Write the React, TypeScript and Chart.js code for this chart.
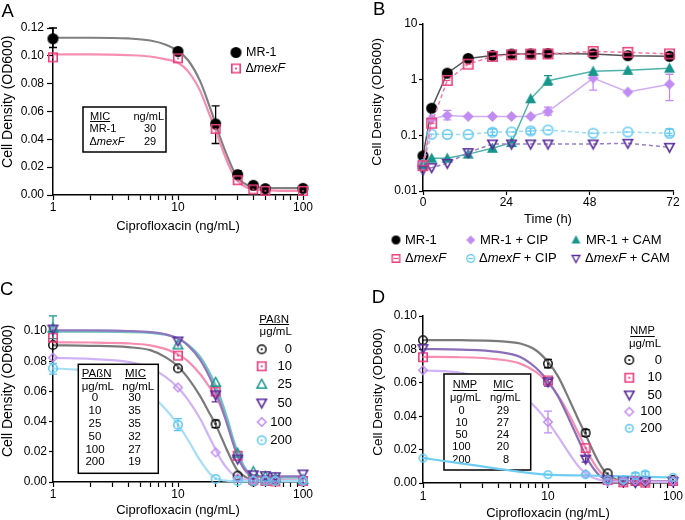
import React, { useEffect, useRef } from 'react';
import { Chart, registerables } from 'chart.js';

Chart.register(...registerables);

const FONT = "'Liberation Sans', Arial, Helvetica, sans-serif";
Chart.defaults.font.family = FONT;
Chart.defaults.color = '#000';

// ---------------- shared axis text / ticks ----------------
const yTitle = 'Cell Density (OD600)';
const xTitleDose = 'Ciprofloxacin (ng/mL)';
const xTitleTime = 'Time (h)';
const doseTickValues = [1, 2, 3, 4, 5, 6, 7, 8, 9, 10, 20, 30, 40, 50, 60, 70, 80, 90, 100];
const doseMajor = [1, 10, 100];
const odTicksA = [0, 0.02, 0.04, 0.06, 0.08, 0.1, 0.12];
const odTicks = [0, 0.02, 0.04, 0.06, 0.08, 0.1];
const timeTicks = [0, 24, 48, 72];
const logOdTicks = [0.01, 0.1, 1, 10];
const logOdLabels = ['0.01', '0.1', '1', '10'];

// ---------------- Panel A ----------------
const seriesA = ['MR-1', 'ΔmexF'];
const dosesA = [1, 10, 20, 30, 40, 50, 100];
const mr1A = [0.1123, 0.1032, 0.0511, 0.0146, 0.007, 0.0046, 0.0048];
const mexFA = [0.0989, 0.0982, 0.0475, 0.0106, 0.004, 0.003, 0.003];
const mr1ErrA = [[0.106, 0.12], null, [0.037, 0.064], [0.012, 0.0175], null, null, null];
const fitDosesA = [1, 2, 4, 6, 8, 10, 12, 15, 18, 20, 22, 25, 28, 30, 35, 40, 50, 70, 100];
const mr1FitA = [0.113, 0.113, 0.1125, 0.111, 0.108, 0.1035, 0.097, 0.082, 0.063, 0.051, 0.04, 0.027, 0.017, 0.0125, 0.0075, 0.006, 0.0052, 0.005, 0.005];
const mexFFitA = [0.101, 0.101, 0.1005, 0.0995, 0.0975, 0.095, 0.089, 0.075, 0.057, 0.0465, 0.036, 0.023, 0.014, 0.01, 0.0055, 0.0042, 0.0035, 0.003, 0.003];
const micHeadA = ['MIC', 'ng/mL'];
const micStrainsA = ['MR-1', 'ΔmexF'];
const micValuesA = ['30', '29'];

// ---------------- Panel B ----------------
const seriesB = ['MR-1', 'ΔmexF', 'MR-1 + CIP', 'ΔmexF + CIP', 'MR-1 + CAM', 'ΔmexF + CAM'];
const timeB = [0, 2.5, 7, 13, 20, 25.5, 31, 36, 49, 59, 71];
const mr1B = [0.0427, 0.307, 1.31, 2.41, 2.73, 2.88, 2.9, 2.95, 2.9, 2.7, 2.63];
const mexFB = [0.0286, 0.165, 0.97, 1.9, 2.62, 2.8, 2.88, 2.9, 3.2, 3.1, 2.9];
const mr1CipB = [0.03, 0.198, 0.227, 0.218, 0.218, 0.218, 0.218, 0.268, 1.07, 0.6, 0.83];
const mexFCipB = [0.03, 0.105, 0.104, 0.104, 0.114, 0.115, 0.12, 0.125, 0.109, 0.115, 0.109];
const mr1CamB = [0.03, 0.0387, 0.0387, 0.046, 0.0586, 0.074, 0.453, 0.955, 1.41, 1.47, 1.61];
const mexFCamB = [0.0239, 0.0263, 0.0315, 0.049, 0.07, 0.07, 0.07, 0.07, 0.07, 0.072, 0.061];
const mr1CipErrB = [null, null, [0.19, 0.28], null, null, null, null, [0.23, 0.32], [0.65, 1.2], null, [0.42, 1.25]];
const mr1CamErrB = [null, null, null, null, null, null, null, [0.8, 1.18], null, null, null];
const mexFCipErrB = [null, null, null, null, [0.1, 0.13], null, [0.105, 0.135], null, null, null, [0.098, 0.13]];

// ---------------- Panel C ----------------
const pabnLevels = ['0', '10', '25', '50', '100', '200'];
const dosesC = [1, 10, 20, 30, 40, 50, 60, 100];
const pabn0 = [0.0907, 0.0753, 0.0385, 0.0042, 0.0004, 0.001, 0.0013, 0.0004];
const pabn10 = [0.0956, 0.0837, 0.0599, 0.0174, 0.0015, 0.0007, 0.0004, 0.0007];
const pabn25 = [0.1018, 0.0907, 0.066, 0.019, 0.0068, 0.0037, 0.0026, 0.0015];
const pabn50 = [0.1013, 0.0934, 0.0577, 0.0152, 0.0048, 0.0042, 0.0035, 0.0053];
const pabn100 = [0.0824, 0.0626, 0.0196, 0.0026, 0.0015, 0.0015, 0.0015, 0.001];
const pabn200 = [0.0753, 0.0379, 0.002, 0.0007, 0.0007, 0.0007, 0.0007, 0.0007];
const pabn0Err = [null, null, [0.036, 0.041], null, null, null, null, null];
const pabn25Err = [[0.095, 0.11], null, null, null, null, null, null, null];
const pabn50Err = [null, null, [0.053, 0.059], null, null, null, null, null];
const pabn200Err = [[0.0715, 0.0785], [0.034, 0.042], null, null, null, null, null, null];
const fitDosesC = [1, 2, 4, 6, 8, 10, 12, 15, 18, 20, 22, 25, 28, 30, 33, 36, 40, 50, 100];
const fitPabn0 = [0.0905, 0.0902, 0.0893, 0.0873, 0.0825, 0.0765, 0.069, 0.057, 0.045, 0.038, 0.0305, 0.02, 0.0115, 0.0075, 0.0045, 0.0025, 0.0015, 0.0009, 0.0008];
const fitPabn10 = [0.0925, 0.0924, 0.0918, 0.0905, 0.088, 0.0845, 0.08, 0.0715, 0.0625, 0.057, 0.05, 0.038, 0.025, 0.018, 0.01, 0.0055, 0.0025, 0.0012, 0.001];
const fitPabn25 = [0.0995, 0.0995, 0.0993, 0.0988, 0.0975, 0.095, 0.091, 0.083, 0.072, 0.064, 0.055, 0.041, 0.027, 0.02, 0.012, 0.007, 0.0045, 0.003, 0.0028];
const fitPabn50 = [0.1005, 0.1004, 0.1, 0.0993, 0.0978, 0.095, 0.0905, 0.081, 0.069, 0.06, 0.051, 0.037, 0.024, 0.017, 0.01, 0.0065, 0.0045, 0.0038, 0.0037];
const fitPabn100 = [0.0822, 0.0815, 0.0795, 0.0755, 0.0695, 0.0625, 0.0545, 0.042, 0.029, 0.0215, 0.015, 0.0085, 0.0045, 0.003, 0.002, 0.0015, 0.001, 0.001, 0.001];
const fitDosesC200 = [1, 1.5, 2, 3, 4, 5, 6, 8, 10, 12, 14, 16, 18, 20, 25, 30, 40, 100];
const fitPabn200 = [0.0752, 0.0745, 0.0735, 0.0705, 0.067, 0.063, 0.058, 0.048, 0.038, 0.028, 0.0185, 0.011, 0.0055, 0.0025, 0.0008, 0.0006, 0.0006, 0.0006];
const micHeadC = ['PAßN', 'MIC'];
const micUnitsC = ['μg/mL', 'ng/mL'];
const micValuesC = ['30', '35', '35', '32', '27', '19'];

// ---------------- Panel D ----------------
const nmpLevels = ['0', '10', '50', '100', '200'];
const dosesD = [1, 10, 20, 30, 40, 50, 60, 100];
const nmp0 = [0.0855, 0.0715, 0.03, 0.0058, 0.0012, 0.001, 0.001, 0.0018];
const nmp10 = [0.0753, 0.0614, 0.0209, 0.0018, 0.0004, 0.0012, 0.0002, 0.0012];
const nmp50 = [0.0805, 0.0606, 0.0143, 0.002, 0.0012, 0.0004, 0.001, 0.001];
const nmp100 = [0.0675, 0.0365, 0.0054, 0.0006, 0.0012, 0.0012, 0.0012, 0.0012];
const nmp200 = [0.0149, 0.005, 0.005, 0.002, 0.002, 0.0044, 0.0054, 0.0034];
const nmp0Err = [null, [0.069, 0.074], [0.028, 0.032], null, null, null, null, null];
const nmp50Err = [null, [0.058, 0.062], [0.0125, 0.016], null, null, null, null, null];
const nmp100Err = [null, [0.03, 0.043], null, null, null, null, null, null];
const nmp200Err = [null, null, null, null, null, [0.003, 0.006], [0.004, 0.0068], null];
const fitDosesD = [1, 2, 4, 6, 8, 10, 12, 15, 18, 20, 22, 25, 28, 30, 35, 40, 100];
const fitNmp0 = [0.0856, 0.0855, 0.085, 0.0835, 0.0795, 0.0725, 0.064, 0.049, 0.036, 0.029, 0.022, 0.0135, 0.0075, 0.005, 0.0022, 0.0013, 0.001];
const fitNmp10 = [0.0755, 0.0753, 0.074, 0.0715, 0.0665, 0.06, 0.0525, 0.04, 0.028, 0.021, 0.015, 0.0085, 0.0045, 0.003, 0.0015, 0.001, 0.0008];
const fitNmp50 = [0.0802, 0.0799, 0.0785, 0.0755, 0.069, 0.061, 0.052, 0.037, 0.024, 0.0165, 0.011, 0.0055, 0.0025, 0.0015, 0.0009, 0.0008, 0.0008];
const fitNmp100 = [0.0675, 0.066, 0.0605, 0.0535, 0.045, 0.0365, 0.028, 0.017, 0.009, 0.006, 0.0038, 0.0022, 0.0013, 0.001, 0.0008, 0.0007, 0.0007];
const fitDosesD200 = [1, 2, 4, 6, 10, 20, 40, 100];
const fitNmp200 = [0.015, 0.0118, 0.0085, 0.0067, 0.005, 0.0045, 0.004, 0.0033];
const micHeadD = ['NMP', 'MIC'];
const micUnitsD = ['μg/mL', 'ng/mL'];
const micValuesD = ['29', '27', '24', '20', '8'];

// ---------------- helpers ----------------
const C = {
  black: '#111111',
  gray: '#808080',
  pink: '#ec3f7c',
  pinkLine: '#f68db2',
  teal: '#17968c',
  tealLine: '#6cc4bd',
  purple: '#5a2d9b',
  purpleLine: '#9076c0',
  lav: '#c18cf2',
  lavLine: '#d2b2f6',
  sky: '#5ec8f0',
  skyLine: '#a6def6',
};

function makeMarker(shape: string, color: string, size: number, filled: boolean, inner?: string, lw = 1.5) {
  const s = Math.ceil(size + 4);
  const c = document.createElement('canvas');
  c.width = s;
  c.height = s;
  const ctx = c.getContext('2d') as CanvasRenderingContext2D;
  const cx = s / 2;
  const cy = s / 2;
  const r = size / 2;
  const h = filled ? r : r - lw / 2;
  ctx.strokeStyle = color;
  ctx.fillStyle = color;
  ctx.lineWidth = lw;
  ctx.beginPath();
  if (shape === 'circle') ctx.arc(cx, cy, h, 0, Math.PI * 2);
  else if (shape === 'square') ctx.rect(cx - h, cy - h, 2 * h, 2 * h);
  else if (shape === 'triangle') {
    ctx.moveTo(cx, cy - h * 1.05);
    ctx.lineTo(cx + h, cy + h * 0.8);
    ctx.lineTo(cx - h, cy + h * 0.8);
    ctx.closePath();
  } else if (shape === 'triangleDown') {
    ctx.moveTo(cx, cy + h * 1.05);
    ctx.lineTo(cx + h, cy - h * 0.8);
    ctx.lineTo(cx - h, cy - h * 0.8);
    ctx.closePath();
  } else if (shape === 'diamond') {
    ctx.moveTo(cx, cy - h);
    ctx.lineTo(cx + h, cy);
    ctx.lineTo(cx, cy + h);
    ctx.lineTo(cx - h, cy);
    ctx.closePath();
  }
  if (filled) ctx.fill();
  else ctx.stroke();
  if (inner === 'dot') {
    ctx.beginPath();
    ctx.arc(cx, cy, 1.1, 0, Math.PI * 2);
    ctx.fill();
  } else if (inner === 'hline') {
    ctx.beginPath();
    ctx.moveTo(cx - h * 0.6, cy);
    ctx.lineTo(cx + h * 0.6, cy);
    ctx.lineWidth = 1.2;
    ctx.stroke();
  }
  return c;
}

function toParts(s: string): [string, boolean][] {
  const out: [string, boolean][] = [];
  const segs = s.split('mexF');
  segs.forEach((seg, i) => {
    if (seg) out.push([seg, false]);
    if (i < segs.length - 1) out.push(['mexF', true]);
  });
  return out;
}

function fontStr(size: number, italic = false) {
  return `${italic ? 'italic ' : ''}${size}px ${FONT}`;
}

function drawRich(ctx: CanvasRenderingContext2D, text: string, x: number, y: number, size: number, align = 'left', underline = false) {
  const parts = toParts(text);
  ctx.save();
  ctx.textBaseline = 'middle';
  ctx.textAlign = 'left';
  ctx.fillStyle = '#000';
  const widths = parts.map(([t, it]) => {
    ctx.font = fontStr(size, it);
    return ctx.measureText(t).width;
  });
  const total = widths.reduce((a, b) => a + b, 0);
  let cx = align === 'left' ? x : align === 'center' ? x - total / 2 : x - total;
  const start = cx;
  parts.forEach(([t, it], i) => {
    ctx.font = fontStr(size, it);
    ctx.fillText(t, cx, y);
    cx += widths[i];
  });
  if (underline) {
    const uy = Math.round(y + size * 0.42) + 0.5;
    ctx.strokeStyle = '#000';
    ctx.lineWidth = 1;
    ctx.beginPath();
    ctx.moveTo(start, uy);
    ctx.lineTo(start + total, uy);
    ctx.stroke();
  }
  ctx.restore();
}

function drawLetter(ctx: CanvasRenderingContext2D, t: string, x: number, y: number) {
  ctx.save();
  ctx.font = fontStr(18.5);
  ctx.fillStyle = '#000';
  ctx.textBaseline = 'alphabetic';
  ctx.textAlign = 'left';
  ctx.fillText(t, x, y);
  ctx.restore();
}

function drawBox(ctx: CanvasRenderingContext2D, x0: number, y0: number, x1: number, y1: number) {
  ctx.save();
  ctx.fillStyle = '#fff';
  ctx.fillRect(x0, y0, x1 - x0, y1 - y0);
  ctx.strokeStyle = '#000';
  ctx.lineWidth = 1.5;
  ctx.strokeRect(x0, y0, x1 - x0, y1 - y0);
  ctx.restore();
}

function drawMarker(ctx: CanvasRenderingContext2D, img: HTMLCanvasElement, x: number, y: number) {
  ctx.drawImage(img, x - img.width / 2, y - img.height / 2);
}

const errorBarPlugin = {
  id: 'errorBars',
  beforeDatasetsDraw(chart: any) {
    const ctx = chart.ctx;
    const xs = chart.scales.x;
    const ys = chart.scales.y;
    chart.data.datasets.forEach((ds: any) => {
      if (!ds.errorBars) return;
      ctx.save();
      ctx.strokeStyle = ds.errorColor;
      ctx.lineWidth = 1.3;
      ds.errorBars.forEach((e: any, j: number) => {
        if (!e) return;
        const px = xs.getPixelForValue(ds.data[j].x);
        const y1 = ys.getPixelForValue(e[0]);
        const y2 = ys.getPixelForValue(e[1]);
        ctx.beginPath();
        ctx.moveTo(px, y1);
        ctx.lineTo(px, y2);
        ctx.moveTo(px - 4, y1);
        ctx.lineTo(px + 4, y1);
        ctx.moveTo(px - 4, y2);
        ctx.lineTo(px + 4, y2);
        ctx.stroke();
      });
      ctx.restore();
    });
  },
};

function xy(xs: number[], ys: number[]) {
  return xs.map((x, i) => ({ x, y: ys[i] }));
}

function pointsDS(label: string, xs: number[], ys: number[], marker: any, err: any, errColor: string, order = 0) {
  return {
    label,
    data: xy(xs, ys),
    showLine: false,
    pointStyle: marker,
    pointRadius: 5,
    clip: false,
    order,
    errorBars: err,
    errorColor: errColor,
  };
}

function curveDS(label: string, xs: number[], ys: number[], color: string, order = 10, extra: any = {}) {
  return {
    label,
    data: xy(xs, ys),
    showLine: true,
    pointRadius: 0,
    borderColor: color,
    borderWidth: 2.2,
    cubicInterpolationMode: 'monotone',
    tension: 0.4,
    clip: false,
    order,
    ...extra,
  };
}

function doseX(height: number, tickPad: number, titlePad: number, titleLH = 1.2) {
  return {
    type: 'logarithmic',
    min: 1,
    max: 100,
    afterBuildTicks: (s: any) => {
      s.ticks = doseTickValues.map((v) => ({ value: v }));
    },
    afterFit: (s: any) => {
      s.height = height;
    },
    ticks: {
      autoSkip: false,
      maxRotation: 0,
      minRotation: 0,
      padding: tickPad,
      color: '#000',
      font: { family: FONT, size: 12 },
      callback: (v: number) => (doseMajor.indexOf(v) >= 0 ? String(v) : ''),
    },
    grid: { drawOnChartArea: false, drawTicks: true, tickLength: 5, tickColor: '#000', tickWidth: 1.2 },
    border: { display: true, color: '#000', width: 1.5 },
    title: {
      display: true,
      text: xTitleDose,
      color: '#000',
      font: { family: FONT, size: 13, lineHeight: titleLH },
      padding: { top: 0, bottom: titlePad },
    },
  };
}

function odY(max: number, tickVals: number[], width: number, tickLen: number, tickPad: number, titleSize: number, titlePad: number, spaces: number) {
  return {
    type: 'linear',
    min: 0,
    max,
    afterBuildTicks: (s: any) => {
      s.ticks = tickVals.map((v) => ({ value: v }));
    },
    afterFit: (s: any) => {
      s.width = width;
    },
    ticks: {
      padding: tickPad,
      color: '#000',
      font: { family: FONT, size: 12 },
      callback: (v: number) => Number(v).toFixed(2),
    },
    grid: { drawOnChartArea: false, drawTicks: true, tickLength: tickLen, tickColor: '#000', tickWidth: 1.2 },
    border: { display: true, color: '#000', width: 1.5 },
    title: {
      display: true,
      text: ' '.repeat(spaces) + yTitle,
      color: '#000',
      font: { family: FONT, size: titleSize },
      padding: { top: titlePad, bottom: 0 },
    },
  };
}

function baseOptions(padTop: number, padRight: number, scales: any) {
  return {
    responsive: false,
    animation: false,
    devicePixelRatio: 1,
    events: [],
    layout: { padding: { top: padTop, right: padRight, left: 0, bottom: 0 } },
    plugins: { legend: { display: false }, tooltip: { enabled: false }, title: { display: false } },
    scales,
  };
}

// ---------------- chart builders ----------------
function buildA(canvas: HTMLCanvasElement) {
  const mCircle = makeMarker('circle', '#000', 11, true);
  const mSquare = makeMarker('square', C.pink, 10, false, 'dot', 1.6);
  const overlay = {
    id: 'overlayA',
    afterDatasetsDraw(chart: any) {
      const ctx = chart.ctx;
      drawLetter(ctx, 'A', 1.5, 16.5);
      // legend
      drawMarker(ctx, mCircle, 236, 52.5);
      drawRich(ctx, seriesA[0], 246, 52.5, 12.5);
      drawMarker(ctx, mSquare, 236, 68.5);
      drawRich(ctx, seriesA[1], 245.5, 68.5, 12.5);
      // MIC box
      drawBox(ctx, 83, 107, 166, 152);
      drawRich(ctx, micHeadA[0], 90, 116.5, 11, 'left', true);
      drawRich(ctx, micHeadA[1], 133.5, 116.5, 11);
      drawRich(ctx, micStrainsA[0], 89.5, 128.5, 11);
      drawRich(ctx, micValuesA[0], 150, 128.5, 11, 'center');
      drawRich(ctx, micStrainsA[1], 89.5, 141.5, 11);
      drawRich(ctx, micValuesA[1], 150, 141.5, 11, 'center');
    },
  };
  return new Chart(canvas, {
    type: 'scatter',
    data: {
      datasets: [
        pointsDS(seriesA[1], dosesA, mexFA, mSquare, null, C.pink, 0),
        pointsDS(seriesA[0], dosesA, mr1A, mCircle, mr1ErrA, '#000', 1),
        curveDS(seriesA[1] + ' fit', fitDosesA, mexFFitA, C.pinkLine, 10),
        curveDS(seriesA[0] + ' fit', fitDosesA, mr1FitA, C.gray, 11),
      ],
    },
    options: baseOptions(28, 37, {
      x: doseX(65, 0, 25.5),
      y: odY(0.12, odTicksA, 53, 6, 3, 14, 0, 5),
    }),
    plugins: [errorBarPlugin, overlay],
  } as any);
}

function buildB(canvas: HTMLCanvasElement) {
  const mk = [
    makeMarker('circle', '#000', 11, true),
    makeMarker('square', C.pink, 11, false, 'hline', 1.6),
    makeMarker('diamond', C.lav, 11, true),
    makeMarker('circle', C.sky, 11, false, 'hline', 1.5),
    makeMarker('triangle', C.teal, 11, true),
    makeMarker('triangleDown', C.purple, 11, false, undefined, 1.6),
  ];
  const lk = [
    makeMarker('circle', '#000', 9, true),
    makeMarker('square', C.pink, 9, false, 'hline', 1.4),
    makeMarker('diamond', C.lav, 9, true),
    makeMarker('circle', C.sky, 9, false, 'hline', 1.3),
    makeMarker('triangle', C.teal, 9, true),
    makeMarker('triangleDown', C.purple, 9, false, undefined, 1.4),
  ];
  const values = [mr1B, mexFB, mr1CipB, mexFCipB, mr1CamB, mexFCamB];
  const lines = ['#555555', '#f27aa5', '#d0acf6', '#9cdaf4', '#4fb3ab', '#9880c4'];
  const dashed = [false, true, false, true, false, true];
  const errs = [null, null, mr1CipErrB, mexFCipErrB, mr1CamErrB, null];
  const errCols = ['#000', C.pink, C.lav, C.sky, C.teal, C.purple];
  const drawOrder = [5, 0, 3, 4, 2, 1];
  // legend positions: [markerX, textX, y]
  const legPos = [
    [56, 65, 240],
    [56, 65, 258.5],
    [130.7, 140, 240],
    [130.7, 139, 258.5],
    [236, 246, 240],
    [236, 245, 258.5],
  ];
  const overlay = {
    id: 'overlayB',
    afterDatasetsDraw(chart: any) {
      const ctx = chart.ctx;
      drawLetter(ctx, 'B', 33, 15);
      seriesB.forEach((lab, i) => {
        const p = legPos[i];
        drawMarker(ctx, lk[i], p[0], p[2]);
        drawRich(ctx, lab, p[1], p[2], 13);
      });
    },
  };
  const datasets = seriesB.map((lab, i) => ({
    label: lab,
    data: xy(timeB, values[i]),
    showLine: true,
    borderColor: lines[i],
    borderWidth: 1.5,
    borderDash: dashed[i] ? [4, 3] : [],
    pointStyle: mk[i],
    pointRadius: 5,
    tension: 0,
    clip: false,
    order: drawOrder[i],
    errorBars: errs[i],
    errorColor: errCols[i],
  }));
  return new Chart(canvas, {
    type: 'scatter',
    data: { datasets },
    options: baseOptions(24, 12, {
      x: {
        type: 'linear',
        min: 0,
        max: 72,
        afterBuildTicks: (s: any) => {
          s.ticks = timeTicks.map((v) => ({ value: v }));
        },
        afterFit: (s: any) => {
          s.height = 84;
        },
        ticks: { autoSkip: false, maxRotation: 0, padding: 0, color: '#000', font: { family: FONT, size: 12 } },
        grid: { drawOnChartArea: false, drawTicks: true, tickLength: 4, tickColor: '#000', tickWidth: 1.2 },
        border: { display: true, color: '#000', width: 1.5 },
        title: { display: true, text: xTitleTime, color: '#000', font: { family: FONT, size: 13 }, padding: { top: 0, bottom: 48 } },
      },
      y: {
        type: 'logarithmic',
        min: 0.01,
        max: 10,
        afterBuildTicks: (s: any) => {
          s.ticks = logOdTicks.map((v) => ({ value: v }));
        },
        afterFit: (s: any) => {
          s.width = 83;
        },
        ticks: {
          padding: 1.5,
          color: '#000',
          font: { family: FONT, size: 12 },
          callback: (v: number) => {
            const k = logOdTicks.indexOf(v);
            return k >= 0 ? logOdLabels[k] : '';
          },
        },
        grid: { drawOnChartArea: false, drawTicks: true, tickLength: 4, tickColor: '#000', tickWidth: 1.2 },
        border: { display: true, color: '#000', width: 1.5 },
        title: {
          display: true,
          text: '   ' + yTitle,
          color: '#000',
          font: { family: FONT, size: 13.5 },
          padding: { top: 29.4, bottom: 0 },
        },
      },
    }),
    plugins: [errorBarPlugin, overlay],
  } as any);
}

function buildC(canvas: HTMLCanvasElement) {
  const mk = [
    makeMarker('circle', C.black, 10, false, 'dot', 1.5),
    makeMarker('square', C.pink, 10, false, 'dot', 1.6),
    makeMarker('triangle', C.teal, 11, false, undefined, 1.5),
    makeMarker('triangleDown', C.purple, 11, false, undefined, 1.6),
    makeMarker('diamond', C.lav, 10, false, undefined, 1.5),
    makeMarker('circle', C.sky, 10, false, 'dot', 1.5),
  ];
  const values = [pabn0, pabn10, pabn25, pabn50, pabn100, pabn200];
  const errs = [pabn0Err, null, pabn25Err, pabn50Err, null, pabn200Err];
  const cols = [C.black, C.pink, C.teal, C.purple, C.lav, C.sky];
  const fits = [fitPabn0, fitPabn10, fitPabn25, fitPabn50, fitPabn100, fitPabn200];
  const fitX = [fitDosesC, fitDosesC, fitDosesC, fitDosesC, fitDosesC, fitDosesC200];
  const fitCols = ['#7a7a7a', C.pinkLine, C.tealLine, C.purpleLine, C.lavLine, C.skyLine];
  const legRows = [89.3, 106.3, 124.3, 143, 162, 180.3];
  const tableRows = [138.3, 151.3, 164, 176.7, 189.7, 202.3];
  const overlay = {
    id: 'overlayC',
    afterDatasetsDraw(chart: any) {
      const ctx = chart.ctx;
      drawLetter(ctx, 'C', 0, 35);
      // legend
      drawRich(ctx, micHeadC[0], 274.2, 59.5, 11.5, 'center', true);
      drawRich(ctx, micUnitsC[0], 275.7, 72, 11.5, 'center');
      pabnLevels.forEach((lv, i) => {
        drawMarker(ctx, mk[i], 261.7, legRows[i]);
        drawRich(ctx, lv, 292, legRows[i], 13, 'right');
      });
      // table
      drawBox(ctx, 78.3, 104.3, 158.3, 213.3);
      drawRich(ctx, micHeadC[0], 81.7, 113.5, 11.5, 'left', true);
      drawRich(ctx, micHeadC[1], 125, 113.5, 11.5, 'left', true);
      drawRich(ctx, micUnitsC[0], 81.7, 126.5, 11.5);
      drawRich(ctx, micUnitsC[1], 122.3, 126.5, 11.5);
      pabnLevels.forEach((lv, i) => {
        drawRich(ctx, lv, 95, tableRows[i], 11.5, 'center');
        drawRich(ctx, micValuesC[i], 141, tableRows[i], 11.5, 'right');
      });
    },
  };
  const datasets: any[] = [];
  const pOrder = [5, 4, 3, 2, 1, 0];
  pabnLevels.forEach((lv, i) => {
    datasets.push(pointsDS(lv, dosesC, values[i], mk[i], errs[i], cols[i], pOrder[i]));
  });
  pabnLevels.forEach((lv, i) => {
    datasets.push(curveDS(lv + ' fit', fitX[i], fits[i], fitCols[i], 20 - i));
  });
  return new Chart(canvas, {
    type: 'scatter',
    data: { datasets },
    options: baseOptions(71, 37, {
      x: doseX(38, 0.5, 2.2),
      y: odY(0.1, odTicks, 53, 4, 2, 14, 0, 8),
    }),
    plugins: [errorBarPlugin, overlay],
  } as any);
}

function buildD(canvas: HTMLCanvasElement) {
  const mk = [
    makeMarker('circle', C.black, 10, false, 'dot', 1.5),
    makeMarker('square', C.pink, 10, false, 'dot', 1.6),
    makeMarker('triangleDown', C.purple, 11, false, undefined, 1.6),
    makeMarker('diamond', C.lav, 10, false, undefined, 1.5),
    makeMarker('circle', C.sky, 9, false, 'dot', 1.5),
  ];
  const values = [nmp0, nmp10, nmp50, nmp100, nmp200];
  const errs = [nmp0Err, null, nmp50Err, nmp100Err, nmp200Err];
  const cols = [C.black, C.pink, C.purple, C.lav, C.sky];
  const fits = [fitNmp0, fitNmp10, fitNmp50, fitNmp100, fitNmp200];
  const fitX = [fitDosesD, fitDosesD, fitDosesD, fitDosesD, fitDosesD200];
  const fitCols = ['#7a7a7a', C.pinkLine, '#8a6eb8', C.lavLine, '#6fcdf2'];
  const legRows = [100, 117.7, 135, 151.7, 168.3];
  const tableRows = [150.7, 162.9, 175.1, 187.3, 199.8];
  let boxDrawn = false;
  const drawTable = (ctx: CanvasRenderingContext2D) => {
    drawBox(ctx, 104, 114, 190.7, 210);
    drawRich(ctx, micHeadD[0], 112.7, 125, 11, 'left', true);
    drawRich(ctx, micHeadD[1], 153.3, 125, 11, 'left', true);
    drawRich(ctx, micUnitsD[0], 110, 138, 11);
    drawRich(ctx, micUnitsD[1], 150, 138, 11);
    nmpLevels.forEach((lv, i) => {
      drawRich(ctx, lv, 121.5, tableRows[i], 11, 'center');
      drawRich(ctx, micValuesD[i], 169, tableRows[i], 11, 'right');
    });
  };
  const overlay = {
    id: 'overlayD',
    beforeDraw() {
      boxDrawn = false;
    },
    beforeDatasetDraw(chart: any, args: any) {
      const ds = chart.data.datasets[args.index];
      if (ds.aboveInset && !boxDrawn) {
        drawTable(chart.ctx);
        boxDrawn = true;
      }
    },
    afterDatasetsDraw(chart: any) {
      const ctx = chart.ctx;
      if (!boxDrawn) {
        drawTable(ctx);
        boxDrawn = true;
      }
      drawLetter(ctx, 'D', 31.7, 43.3);
      drawRich(ctx, micHeadD[0], 302.5, 71, 11, 'center', true);
      drawRich(ctx, micUnitsD[0], 305, 83.5, 11.5, 'center');
      nmpLevels.forEach((lv, i) => {
        drawMarker(ctx, mk[i], 289.3, legRows[i]);
        drawRich(ctx, lv, 322, legRows[i], 13, 'right');
      });
    },
  };
  const datasets: any[] = [];
  const pOrder = [4, 3, 2, 1, 0];
  nmpLevels.forEach((lv, i) => {
    datasets.push(pointsDS(lv, dosesD, values[i], mk[i], errs[i], cols[i], pOrder[i]));
  });
  nmpLevels.forEach((lv, i) => {
    const isSky = i === 4;
    datasets.push(
      curveDS(lv + ' fit', fitX[i], fits[i], fitCols[i], isSky ? 10 : 20 - i, isSky ? { aboveInset: true } : {})
    );
  });
  return new Chart(canvas, {
    type: 'scatter',
    data: { datasets },
    options: baseOptions(56, 12, {
      x: doseX(37, 1, 0, 1),
      y: odY(0.1, odTicks, 83, 4, 2, 13.5, 29.9, 4),
    }),
    plugins: [errorBarPlugin, overlay],
  } as any);
}

function Panel(props: { left: number; top: number; width: number; height: number; build: (c: HTMLCanvasElement) => any }) {
  const ref = useRef<HTMLCanvasElement>(null);
  useEffect(() => {
    const chart = props.build(ref.current as HTMLCanvasElement);
    return () => chart.destroy();
  }, []);
  return (
    <canvas
      ref={ref}
      width={props.width}
      height={props.height}
      style={{ position: 'absolute', left: props.left, top: props.top, width: props.width, height: props.height }}
    />
  );
}

export default function App() {
  return (
    <div style={{ position: 'absolute', left: 0, top: 0, width: 685, height: 520, background: '#fff', overflow: 'hidden' }}>
      <Panel left={0} top={0} width={340} height={260} build={buildA} />
      <Panel left={340} top={0} width={345} height={275} build={buildB} />
      <Panel left={0} top={260} width={340} height={260} build={buildC} />
      <Panel left={340} top={260} width={345} height={260} build={buildD} />
    </div>
  );
}
